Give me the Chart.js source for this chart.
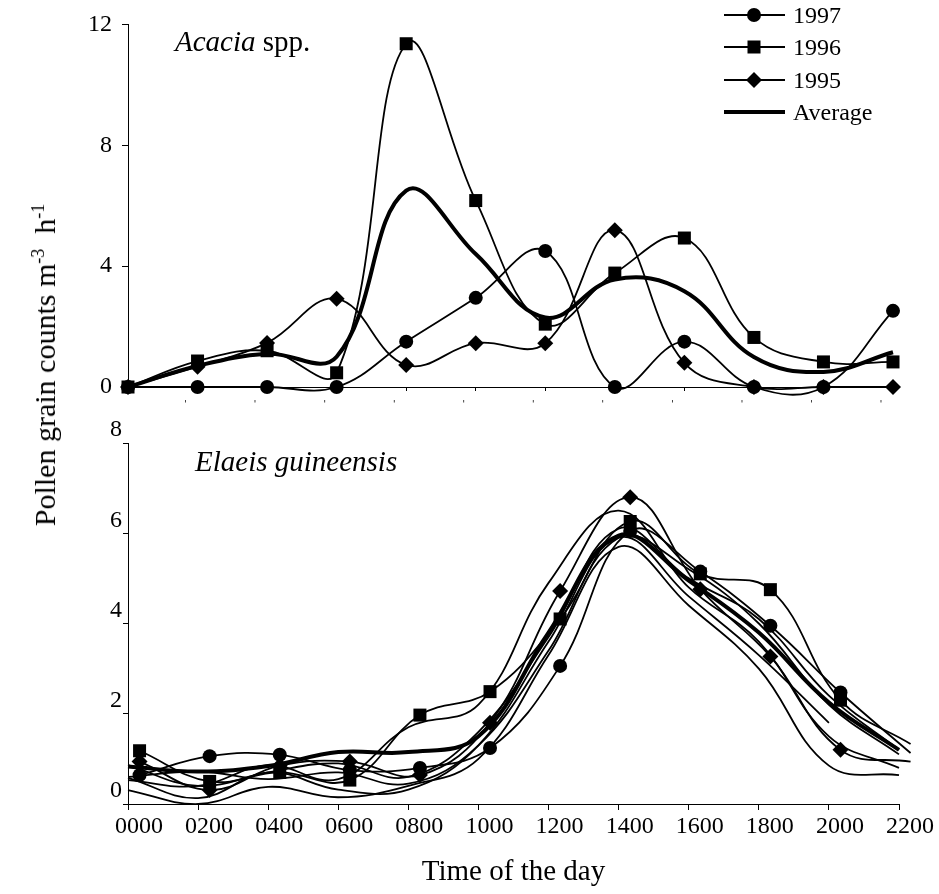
<!DOCTYPE html>
<html><head><meta charset="utf-8">
<script src="https://cdn.jsdelivr.net/npm/chart.js@4.4.1/dist/chart.umd.min.js"></script>
<style>
html,body{margin:0;padding:0;background:#fff;}
#wrap{position:relative;width:939px;height:894px;overflow:hidden;font-family:"Liberation Serif","Times New Roman",serif;color:#000;}
canvas{position:absolute;left:0;}
#cTop{top:0;}
#cBot{top:420px;}
.ytitle{position:absolute;left:45px;top:365px;transform:translate(-50%,-50%) rotate(-90deg);white-space:nowrap;font-size:30px;line-height:32px;}
.ytitle sup{font-size:18px;vertical-align:11px;line-height:0;}
.ptitle{position:absolute;font-size:29px;line-height:30px;white-space:nowrap;}
.leg{position:absolute;left:724px;height:32px;line-height:32px;font-size:24px;white-space:nowrap;}
.leg svg{display:inline-block;vertical-align:top;}
.leg span{position:absolute;left:69px;top:0;}
</style></head>
<body><div id="wrap">
<canvas id="cTop" width="939" height="420"></canvas>
<canvas id="cBot" width="939" height="474"></canvas>
<div class="ytitle">Pollen grain counts m<sup>-3</sup>&nbsp; h<sup>-1</sup></div>
<div class="ptitle" style="left:175px;top:26px;"><i>Acacia</i> spp.</div>
<div class="ptitle" style="left:195px;top:446px;"><i>Elaeis guineensis</i></div>
<div class="leg" style="top:-1px;"><svg width="62" height="32"><line x1="0" y1="16" x2="61" y2="16" stroke="#000" stroke-width="1.8"/><circle cx="30" cy="16" r="7" fill="#000"/></svg><span>1997</span></div>
<div class="leg" style="top:31px;"><svg width="62" height="32"><line x1="0" y1="16" x2="61" y2="16" stroke="#000" stroke-width="1.8"/><rect x="23.5" y="9.5" width="13" height="13" fill="#000"/></svg><span>1996</span></div>
<div class="leg" style="top:64px;"><svg width="62" height="32"><line x1="0" y1="16" x2="61" y2="16" stroke="#000" stroke-width="1.8"/><polygon points="30,8 38,16 30,24 22,16" fill="#000"/></svg><span>1995</span></div>
<div class="leg" style="top:96px;"><svg width="62" height="32"><line x1="0" y1="16" x2="61" y2="16" stroke="#000" stroke-width="4.2"/></svg><span>Average</span></div>
</div>
<script>
// ---- data ----
const hours = [0, 2, 4, 6, 8, 10, 12, 14, 16, 18, 20, 22];
const tickLabels = ["0000","0200","0400","0600","0800","1000","1200","1400","1600","1800","2000","2200"];

// Acacia spp. (top panel)
const acacia1997 = [0, 0, 0, 0, 1.5, 2.95, 4.5, 0, 1.5, 0, 0, 2.52];
const acacia1996 = [0, 0.86, 1.2, 0.47, 11.36, 6.17, 2.08, 3.77, 4.93, 1.64, 0.83, 0.83];
const acacia1995 = [0, 0.67, 1.46, 2.92, 0.73, 1.45, 1.45, 5.19, 0.8, 0, 0, 0];
const acaciaAvg  = [0, 0.7, 1.1, 1.0, 6.5, 4.4, 2.3, 3.56, 3.17, 0.99, 0.5, 1.15];

// Elaeis guineensis (bottom panel)
const elaeis1997 = [0.64, 1.06, 1.09, 0.75, 0.8, 1.24, 3.06, 6.05, 5.15, 3.95, 2.47, 1.13];
const elaeis1996 = [1.18, 0.5, 0.7, 0.53, 1.97, 2.49, 4.1, 6.26, 5.1, 4.75, 2.3, 1.33];
const elaeis1995 = [0.94, 0.31, 0.85, 0.94, 0.64, 1.8, 4.72, 6.8, 4.76, 3.27, 1.2, 0.94];
const elaeisAvg  = [0.83, 0.72, 0.84, 1.15, 1.15, 1.5, 3.8, 5.95, 4.95, 3.8, 2.25, 1.2];
// unlabelled individual curves in the bottom panel
const elaeisU1 = [0.31, 0.0, 0.38, 0.15, 0.4, 1.0, 3.3, 5.7, 4.4, 3.0, 0.85, 0.64];
const elaeisU2 = [0.58, 0.13, 0.7, 0.32, 0.32, 1.3, 3.6, 5.9, 4.6, 3.3, 1.8];
const elaeisU3 = [0.53, 0.4, 0.86, 0.55, 1.7, 2.2, 4.9, 6.5, 4.8, 3.6, 1.5, 0.8];
const elaeisU4 = [0.86, 0.4, 0.7, 0.9, 0.6, 1.6, 3.7, 6.1, 5.0, 4.1, 2.4, 1.2];
const elaeisU5 = [0.6, 0.72, 0.55, 0.7, 0.45, 1.3, 3.4, 5.9, 5.2, 4.0, 2.2, 1.1];
const markerShift = 0.33; // markers in bottom panel sit slightly right of the ticks

// ---- drawing ----
const FONT = '"Liberation Serif","Times New Roman",serif';
Chart.defaults.font.family = FONT;
Chart.defaults.color = '#000';

function pts(vals, shift) {
  return vals.map((v, i) => ({x: hours[i] + (shift || 0), y: v}));
}
function series(label, vals, style, shift) {
  const base = {label, data: pts(vals, shift), borderColor:'#000', backgroundColor:'#000',
    borderWidth:1.8, tension:0.4, clip:false, pointBorderWidth:0, pointHoverRadius:0};
  if (style === 'circle') Object.assign(base, {pointStyle:'circle', pointRadius:7});
  else if (style === 'rect') Object.assign(base, {pointStyle:'rect', pointRadius:9.2});
  else if (style === 'rectRot') Object.assign(base, {pointStyle:'rectRot', pointRadius:8});
  else if (style === 'avg') Object.assign(base, {pointRadius:0, borderWidth:4});
  else Object.assign(base, {pointRadius:0});
  return base;
}
const commonOpts = {
  responsive:false, animation:false, devicePixelRatio:1,
  events:[],
  elements:{line:{capBezierPoints:false}},
  plugins:{legend:{display:false}, tooltip:{enabled:false}},
};

new Chart(document.getElementById('cTop'), {
  type:'line',
  data:{datasets:[
    series('Average', acaciaAvg, 'avg'),
    series('1997', acacia1997, 'circle'),
    series('1996', acacia1996, 'rect'),
    series('1995', acacia1995, 'rectRot'),
  ]},
  options:Object.assign({}, commonOpts, {
    layout:{padding:{top:20, right:46, left:0, bottom:0}},
    scales:{
      x:{type:'linear', min:0, max:22,
        ticks:{stepSize:2, autoSkip:false, maxRotation:0, font:{size:9, family:'DejaVu Sans'}, labelOffset:-12, padding:8,
          callback:(v)=> v === 0 ? '' : "'"},
        grid:{drawOnChartArea:false, tickLength:4, color:'#000', lineWidth:1},
        border:{color:'#000', width:1},
        afterFit:(s)=>{ s.height = 33; }},
      y:{min:0, max:12,
        ticks:{stepSize:4, font:{size:24}, padding:10},
        grid:{drawOnChartArea:false, tickLength:6, color:'#000'},
        border:{color:'#000', width:1},
        afterFit:(s)=>{ s.width = 128; }}
    }
  })
});

new Chart(document.getElementById('cBot'), {
  type:'line',
  data:{datasets:[
    series('u1', elaeisU1, 'none'),
    series('u2', elaeisU2, 'none'),
    series('u3', elaeisU3, 'none'),
    series('u4', elaeisU4, 'none'),
    series('u5', elaeisU5, 'none'),
    series('Average', elaeisAvg, 'avg'),
    series('1997', elaeis1997, 'circle', markerShift),
    series('1996', elaeis1996, 'rect', markerShift),
    series('1995', elaeis1995, 'rectRot', markerShift),
  ]},
  options:Object.assign({}, commonOpts, {
    layout:{padding:{top:23, right:40, left:0, bottom:0}},
    scales:{
      x:{type:'linear', min:0, max:22,
        ticks:{stepSize:2, autoSkip:false, maxRotation:0, font:{size:24}, labelOffset:11, padding:2,
          callback:(v)=> tickLabels[hours.indexOf(v)] || ''},
        grid:{drawOnChartArea:false, tickLength:6, color:'#000'},
        border:{color:'#000', width:1},
        title:{display:true, text:'Time of the day', font:{size:29}, padding:{top:0, bottom:4}},
        afterFit:(s)=>{ s.height = 90; }},
      y:{min:0, max:8,
        ticks:{stepSize:2, font:{size:24}, padding:1, labelOffset:-13},
        grid:{drawOnChartArea:false, tickLength:5, color:'#000'},
        border:{color:'#000', width:1},
        afterFit:(s)=>{ s.width = 128; }}
    }
  })
});
</script>
</body></html>
